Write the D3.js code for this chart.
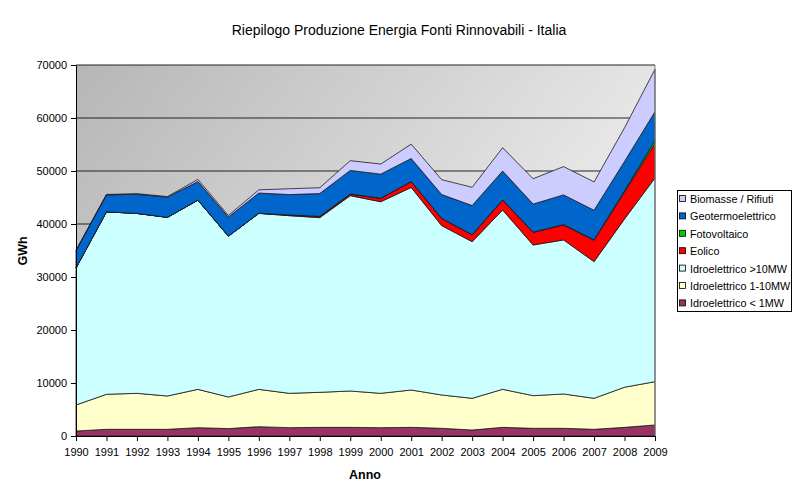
<!DOCTYPE html>
<html><head><meta charset="utf-8">
<script src="https://cdn.jsdelivr.net/npm/d3@7"></script>
<style>
html,body{margin:0;padding:0;background:#fff;}
svg text{font-family:"Liberation Sans",Arial,sans-serif;fill:#000;}
</style></head>
<body>
<svg id="chart" width="800" height="499"></svg>
<script>
const years = [1990,1991,1992,1993,1994,1995,1996,1997,1998,1999,2000,2001,2002,2003,2004,2005,2006,2007,2008,2009];
const idroMini  = [940,1260,1260,1260,1570,1400,1760,1570,1630,1630,1570,1630,1450,1130,1630,1450,1450,1260,1630,2080];
const idroPiccolo = [4910,6610,6790,6290,7230,5960,7040,6480,6610,6860,6480,7050,6290,5980,7180,6160,6480,5850,7570,8170];
const idroGrande = [25850,34430,33950,33710,35700,30340,33200,33520,32960,36860,36150,38220,31960,29560,33840,28430,29070,25790,31750,38450];
const eolico = [0,0,0,0,10,10,30,120,230,300,650,1100,1350,1300,1880,2390,2850,4050,5100,6500];
const fotovoltaico = [0,0,0,0,0,0,10,10,10,10,10,10,10,10,10,30,40,40,200,600];
const geotermo = [3300,3200,3600,3800,3500,3600,3800,3850,4300,4450,4550,4350,4500,5500,5450,5300,5600,5600,5550,5400];
const biomasse = [30,80,120,120,400,300,600,1100,1100,1840,1900,2700,2800,3450,4400,4780,5340,5350,6350,8000];
const yTicks = [0,10000,20000,30000,40000,50000,60000,70000];

const seriesNames = ["Idroelettrico < 1MW","Idroelettrico 1-10MW","Idroelettrico >10MW","Eolico","Fotovoltaico","Geotermoelettrico","Biomasse / Rifiuti"];
const seriesValues = [idroMini, idroPiccolo, idroGrande, eolico, fotovoltaico, geotermo, biomasse];
const seriesColors = ["#993366","#FFFFCC","#CCFFFF","#FF0000","#00CC00","#0066CC","#CCCCFF"];

const rows = years.map((y,i)=>{const r={year:y}; seriesNames.forEach((n,k)=>r[n]=seriesValues[k][i]); return r;});

const svg = d3.select("#chart");
const L=76, R=655, T=65, B=436;
const x = d3.scaleLinear().domain([1990,2009]).range([L,R]);
const y = d3.scaleLinear().domain([0,70000]).range([B,T]);

const defs = svg.append("defs");
const grad = defs.append("linearGradient").attr("id","bg").attr("x1","0").attr("y1","0").attr("x2","1").attr("y2","0.5");
grad.append("stop").attr("offset","0").attr("stop-color","#b6b6b6");
grad.append("stop").attr("offset","1").attr("stop-color","#f0f0f0");

svg.append("rect").attr("x",L).attr("y",T).attr("width",R-L).attr("height",B-T).attr("fill","url(#bg)");

// gridlines
svg.append("g").selectAll("line").data(yTicks.slice(1)).join("line")
  .attr("x1",L).attr("x2",R).attr("y1",d=>y(d)).attr("y2",d=>y(d))
  .attr("stroke","#222").attr("stroke-width",1);

const stack = d3.stack().keys(seriesNames);
const layers = stack(rows);
const area = d3.area().x(d=>x(d.data.year)).y0(d=>y(d[0])).y1(d=>y(d[1]));

svg.append("g").selectAll("path").data(layers).join("path")
  .attr("d",area)
  .attr("fill",(d,i)=>seriesColors[i])
  .attr("stroke","#1a1a1a").attr("stroke-width",0.8).attr("stroke-linejoin","round");

// right border
svg.append("line").attr("x1",R).attr("x2",R).attr("y1",T).attr("y2",B).attr("stroke","#808080").attr("stroke-width",1);

// axes
const yAxis = d3.axisLeft(y).tickValues(yTicks).tickSize(5).tickSizeOuter(0).tickFormat(d3.format("d"));
const gy = svg.append("g").attr("transform",`translate(${L},0)`).call(yAxis);
gy.selectAll("text").style("font-size","11px").attr("dx","-1").attr("fill","#000");
gy.selectAll("line,path").attr("stroke","#000");

const xAxis = d3.axisBottom(x).tickValues(years).tickSize(5).tickSizeOuter(0).tickFormat(d=>String(d));
const gx = svg.append("g").attr("transform",`translate(0,${B})`).call(xAxis);
gx.selectAll("text").style("font-size","11px").attr("dy","1.1em").attr("fill","#000");
gx.selectAll("line,path").attr("stroke","#000");

// titles
svg.append("text").attr("x",399).attr("y",35).attr("text-anchor","middle").style("font-size","14px")
  .text("Riepilogo Produzione Energia Fonti Rinnovabili - Italia");
svg.append("text").attr("x",365).attr("y",479).attr("text-anchor","middle").style("font-size","12.5px").style("font-weight","bold").text("Anno");
svg.append("text").attr("transform","translate(27,251) rotate(-90)").attr("text-anchor","middle").style("font-size","12.5px").style("font-weight","bold").text("GWh");

// legend
const lg = svg.append("g");
lg.append("rect").attr("x",677.5).attr("y",190.5).attr("width",114).attr("height",121).attr("fill","#fff").attr("stroke","#000").attr("stroke-width",1);
const legendOrder = seriesNames.map((n,i)=>i).reverse();
const items = lg.selectAll("g.it").data(legendOrder).join("g").attr("class","it")
  .attr("transform",(d,j)=>`translate(0,${199+j*17.4})`);
items.append("rect").attr("x",679.5).attr("y",-3.5).attr("width",6).attr("height",6)
  .attr("fill",i=>seriesColors[i]).attr("stroke","#000").attr("stroke-width",0.8);
items.append("text").attr("x",690).attr("y",4).style("font-size","10.8px").text(i=>seriesNames[i]);
</script>
</body></html>
